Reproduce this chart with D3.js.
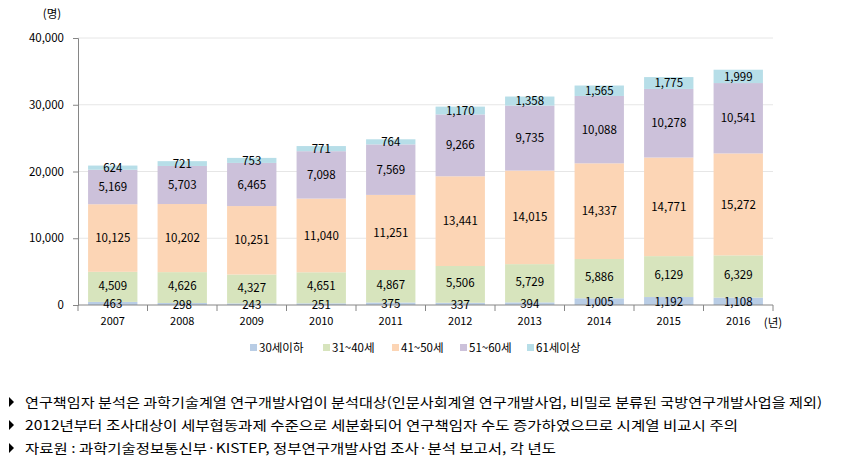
<!DOCTYPE html>
<html><head><meta charset="utf-8">
<script src="https://cdn.jsdelivr.net/npm/d3@7"></script>
<style>body{margin:0;background:#fff;} svg{display:block;}</style>
</head><body>
<svg id="c" width="857" height="466"></svg>
<script>
const years = ["2007","2008","2009","2010","2011","2012","2013","2014","2015","2016"];
const seriesNames = ["30세이하","31~40세","41~50세","51~60세","61세이상"];
const age30 = [463,298,243,251,375,337,394,1005,1192,1108];
const age31_40 = [4509,4626,4327,4651,4867,5506,5729,5886,6129,6329];
const age41_50 = [10125,10202,10251,11040,11251,13441,14015,14337,14771,15272];
const age51_60 = [5169,5703,6465,7098,7569,9266,9735,10088,10278,10541];
const age61 = [624,721,753,771,764,1170,1358,1565,1775,1999];
const yTicks = [0,10000,20000,30000,40000];
const colors = ["#b9cde5","#d7e4bd","#fcd5b5","#ccc1da","#b7dee8"];
const notes = [
 "연구책임자 분석은 과학기술계열 연구개발사업이 분석대상(인문사회계열 연구개발사업, 비밀로 분류된 국방연구개발사업을 제외)",
 "2012년부터 조사대상이 세부협동과제 수준으로 세분화되어 연구책임자 수도 증가하였으므로 시계열 비교시 주의",
 "자료원 : 과학기술정보통신부·KISTEP, 정부연구개발사업 조사·분석 보고서, 각 년도"
];

const allSeries = [age30, age31_40, age41_50, age51_60, age61];
const rows = years.map((y,i)=>{const o={year:y}; seriesNames.forEach((s,k)=>o[s]=allSeries[k][i]); return o;});
const stack = d3.stack().keys(seriesNames)(rows);

const svg = d3.select("#c");
const font = "'Noto Sans CJK KR','Noto Sans',sans-serif";
const m = {left:78, right:773, top:38, bottom:305};
const x = d3.scaleBand().domain(years).range([m.left,m.right]).paddingInner(0.29).paddingOuter(0.145);
const y = d3.scaleLinear().domain([0,40000]).range([m.bottom,m.top]);

// gridlines
svg.append("g").selectAll("line").data(yTicks.slice(1)).join("line")
  .attr("x1",m.left).attr("x2",m.right).attr("y1",d=>y(d)).attr("y2",d=>y(d))
  .attr("stroke","#e6e6e6").attr("stroke-width",1);

// bars
const g = svg.append("g");
stack.forEach((s,k)=>{
  g.append("g").attr("fill",colors[k]).selectAll("rect").data(s).join("rect")
   .attr("x",d=>x(d.data.year)).attr("width",x.bandwidth())
   .attr("y",d=>y(d[1])).attr("height",d=>y(d[0])-y(d[1]));
});

// y axis
const ya = svg.append("g").attr("transform",`translate(${m.left},0)`)
  .call(d3.axisLeft(y).tickValues(yTicks).tickFormat(d3.format(",")).tickSize(5).tickPadding(9));
ya.select(".domain").attr("stroke","#868686");
ya.selectAll(".tick line").attr("stroke","#868686");
ya.selectAll("text").attr("font-family",font).attr("font-size",11.5).attr("fill","#000");

// x axis
const xa = svg.append("g").attr("transform",`translate(0,${m.bottom})`)
  .call(d3.axisBottom(x).tickSize(0).tickPadding(12));
xa.select(".domain").attr("stroke","#868686").attr("d",`M${m.left},0H${m.right}`);
xa.selectAll("text").attr("font-family",font).attr("font-size",11).attr("fill","#000");
const bounds = d3.range(years.length+1).map(i=>m.left + i*(m.right-m.left)/years.length);
xa.append("g").selectAll("line").data(bounds).join("line")
  .attr("x1",d=>d).attr("x2",d=>d).attr("y1",0).attr("y2",6).attr("stroke","#868686");

// labels
stack.forEach((s,k)=>{
  svg.append("g").selectAll("text").data(s).join("text")
   .attr("x",d=>x(d.data.year)+x.bandwidth()/2)
   .attr("y",d=>{const c=(y(d[0])+y(d[1]))/2; return k===1 ? c-1.5 : (k===0 ? c+0.5 : c);})
   .attr("dy","0.36em").attr("text-anchor","middle")
   .attr("font-family",font).attr("font-size",11.5).attr("fill","#000")
   .text(d=>d3.format(",")(d[1]-d[0]));
});

// unit labels
svg.append("text").attr("x",52).attr("y",18).attr("text-anchor","middle")
  .attr("font-family",font).attr("font-size",11.5).text("(명)");
svg.append("text").attr("x",773).attr("y",327).attr("text-anchor","middle")
  .attr("font-family",font).attr("font-size",11.5).text("(년)");

// legend
const legX = [250,323,392,460,527];
const lg = svg.append("g");
seriesNames.forEach((s,k)=>{
  lg.append("rect").attr("x",legX[k]).attr("y",344).attr("width",7).attr("height",7).attr("fill",colors[k]);
  lg.append("text").attr("x",legX[k]+9).attr("y",348).attr("dy","0.36em")
    .attr("font-family",font).attr("font-size",11.5).attr("fill","#000").text(s);
});

// notes
const noteY = [402,425,448];
const noteW = [797,713,531];
notes.forEach((t,i)=>{
  svg.append("path").attr("d",`M9,${noteY[i]-5}L14,${noteY[i]}L9,${noteY[i]+5}Z`).attr("fill","#000");
  svg.append("text").attr("x",25).attr("y",noteY[i]).attr("dy","0.36em")
    .attr("font-family",font).attr("font-size",13).attr("fill","#000")
    .attr("textLength",noteW[i]).attr("lengthAdjust","spacingAndGlyphs").text(t);
});
</script>
</body></html>
